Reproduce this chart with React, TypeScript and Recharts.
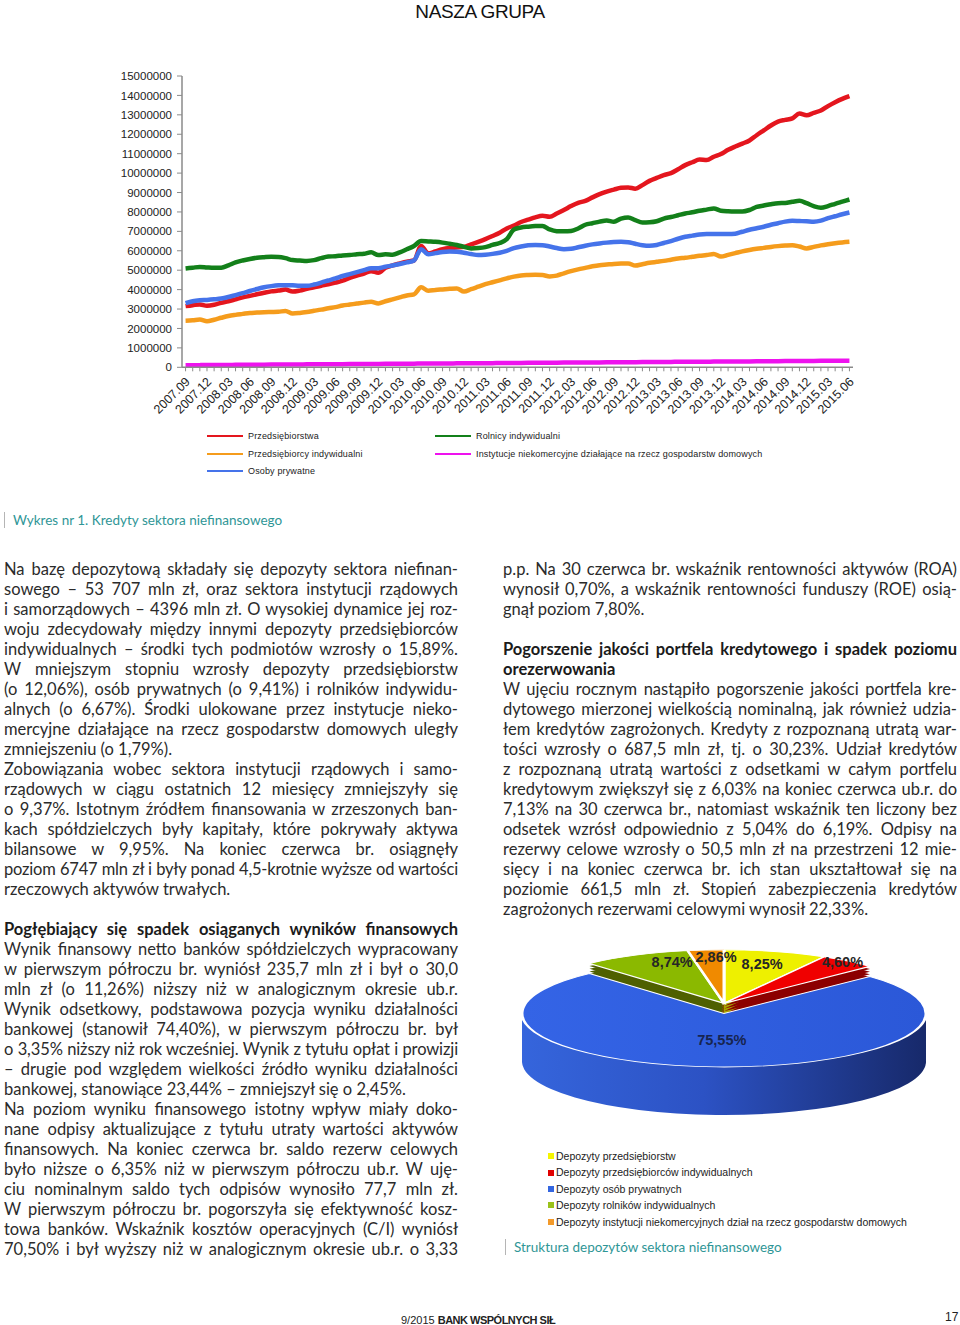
import React, { useLayoutEffect, useRef } from 'react';
import { LineChart, Line, XAxis, YAxis, PieChart, Pie, Cell } from 'recharts';

// Wykres nr 1 – kredyty sektora niefinansowego (dane miesięczne, tys. zł)
const months = [
  '2007.09', '2007.10', '2007.11', '2007.12',
  '2008.01', '2008.02', '2008.03', '2008.04', '2008.05', '2008.06', '2008.07', '2008.08', '2008.09', '2008.10', '2008.11', '2008.12',
  '2009.01', '2009.02', '2009.03', '2009.04', '2009.05', '2009.06', '2009.07', '2009.08', '2009.09', '2009.10', '2009.11', '2009.12',
  '2010.01', '2010.02', '2010.03', '2010.04', '2010.05', '2010.06', '2010.07', '2010.08', '2010.09', '2010.10', '2010.11', '2010.12',
  '2011.01', '2011.02', '2011.03', '2011.04', '2011.05', '2011.06', '2011.07', '2011.08', '2011.09', '2011.10', '2011.11', '2011.12',
  '2012.01', '2012.02', '2012.03', '2012.04', '2012.05', '2012.06', '2012.07', '2012.08', '2012.09', '2012.10', '2012.11', '2012.12',
  '2013.01', '2013.02', '2013.03', '2013.04', '2013.05', '2013.06', '2013.07', '2013.08', '2013.09', '2013.10', '2013.11', '2013.12',
  '2014.01', '2014.02', '2014.03', '2014.04', '2014.05', '2014.06', '2014.07', '2014.08', '2014.09', '2014.10', '2014.11', '2014.12',
  '2015.01', '2015.02', '2015.03', '2015.04', '2015.05', '2015.06',
];

const przedsiebiorstwa = [
  3150, 3200, 3240, 3170, 3220, 3320, 3400, 3500, 3600, 3680,
  3760, 3840, 3910, 3950, 4000, 3900, 3950, 4040, 4120, 4200,
  4270, 4360, 4460, 4600, 4720, 4830, 4950, 4870, 5120, 5250,
  5350, 5440, 5500, 6250, 5860, 5970, 6080, 6140, 6170, 6200,
  6330, 6460, 6600, 6760, 6930, 7150, 7300, 7480, 7600, 7720,
  7800, 7750, 7920, 8100, 8300, 8470, 8570, 8750, 8920, 9050,
  9150, 9240, 9260, 9200, 9380, 9600, 9750, 9900, 10000, 10200,
  10410, 10560, 10700, 10670, 10840, 10980, 11200, 11370, 11520, 11680,
  11950, 12200, 12450, 12650, 12740, 12820, 13070, 12980, 13100, 13220,
  13450, 13650, 13820, 13960,
];

const rolnicy = [
  5090, 5130, 5170, 5140, 5120, 5130, 5250, 5400, 5500, 5580,
  5640, 5670, 5690, 5680, 5620, 5520, 5500, 5480, 5520, 5620,
  5700, 5720, 5760, 5780, 5820, 5850, 5920, 5780, 5820, 5800,
  5920, 6080, 6250, 6500, 6480, 6460, 6420, 6360, 6300, 6200,
  6120, 6140, 6190, 6300, 6400, 6600, 7100, 7200, 7240, 7270,
  7280, 7100, 7010, 7000, 7020, 7150, 7340, 7420, 7500, 7560,
  7500, 7660, 7720, 7580, 7460, 7470, 7520, 7660, 7740, 7830,
  7920, 7980, 8060, 8120, 8180, 8060, 8030, 8020, 8020, 8100,
  8260, 8330, 8400, 8450, 8460, 8520, 8570, 8450, 8300, 8220,
  8300, 8420, 8530, 8640,
];

const przedsiebiorcy = [
  2400, 2420, 2460, 2370, 2450, 2550, 2640, 2700, 2750, 2800,
  2820, 2840, 2850, 2860, 2900, 2770, 2800, 2850, 2910, 2970,
  3040, 3100, 3180, 3230, 3280, 3330, 3370, 3290, 3400, 3500,
  3600, 3700, 3760, 4120, 3940, 3980, 4010, 4040, 4060, 3900,
  4020, 4150, 4280, 4380, 4480, 4580, 4670, 4730, 4750, 4760,
  4750, 4680, 4720, 4840, 4950, 5040, 5120, 5200, 5260, 5290,
  5320, 5340, 5350, 5240, 5310, 5380, 5430, 5480, 5540, 5600,
  5640, 5690, 5740, 5780, 5830, 5700, 5790, 5880, 5970, 6040,
  6100, 6150, 6200, 6240, 6270, 6290, 6220, 6120, 6200, 6280,
  6340, 6390, 6430, 6460,
];

const instytucje = [
  105, 108, 112, 114, 118, 121, 122, 126, 128, 130,
  134, 136, 139, 140, 143, 146, 147, 151, 153, 155,
  158, 161, 162, 166, 169, 170, 173, 176, 177, 181,
  184, 185, 188, 191, 193, 196, 198, 200, 203, 206,
  208, 211, 214, 215, 218, 221, 223, 226, 228, 230,
  234, 236, 237, 241, 243, 245, 249, 251, 252, 256,
  259, 260, 263, 266, 267, 271, 274, 275, 278, 281,
  283, 286, 288, 290, 294, 296, 297, 301, 303, 305,
  309, 311, 312, 316, 319, 320, 323, 326, 327, 331,
  334, 335, 339, 341,
];

const osobyPrywatne = [
  3300, 3400, 3450, 3470, 3500, 3540, 3620, 3720, 3820, 3930,
  4030, 4120, 4180, 4220, 4230, 4220, 4200, 4200, 4260, 4360,
  4470, 4580, 4700, 4800, 4900, 5000, 5100, 5100, 5180, 5240,
  5320, 5400, 5500, 6080, 5820, 5880, 5940, 5960, 5950, 5900,
  5830, 5780, 5800, 5840, 5900, 6000, 6140, 6220, 6280, 6300,
  6290, 6220, 6140, 6080, 6100, 6180, 6260, 6330, 6380, 6420,
  6450, 6460, 6440, 6360, 6290, 6260, 6300, 6400, 6500, 6620,
  6720, 6780, 6840, 6860, 6860, 6860, 6860, 6880, 6980, 7080,
  7160, 7240, 7340, 7420, 7500, 7540, 7530, 7520, 7500, 7550,
  7680, 7780, 7880, 7970,
];

const yTicks = [
  0, 1000000, 2000000, 3000000, 4000000, 5000000, 6000000, 7000000,
  8000000, 9000000, 10000000, 11000000, 12000000, 13000000, 14000000, 15000000,
];

// Struktura depozytów sektora niefinansowego (%)
const pieNames = [
  'Depozyty przedsiębiorstw',
  'Depozyty przedsiębiorców indywidualnych',
  'Depozyty osób prywatnych',
  'Depozyty rolników indywidualnych',
  'Depozyty instytucji niekomercyjnych dział na rzecz gospodarstw domowych',
];
const pieValues = [8.25, 4.6, 75.55, 8.74, 2.86];

const lineSeries = [
  { key: 'przedsiebiorstwa', name: 'Przedsiębiorstwa', color: '#e4161e' },
  { key: 'rolnicy', name: 'Rolnicy indywidualni', color: '#13801a' },
  { key: 'przedsiebiorcy', name: 'Przedsiębiorcy indywidualni', color: '#f59c1c' },
  { key: 'instytucje', name: 'Instytucje niekomercyjne działające na rzecz gospodarstw domowych', color: '#ee12ee' },
  { key: 'osobyPrywatne', name: 'Osoby prywatne', color: '#4573ea' },
];

const lineData = months.map((month, i) => ({
  month,
  przedsiebiorstwa: przedsiebiorstwa[i] * 1000,
  rolnicy: rolnicy[i] * 1000,
  przedsiebiorcy: przedsiebiorcy[i] * 1000,
  instytucje: instytucje[i] * 1000,
  osobyPrywatne: osobyPrywatne[i] * 1000,
}));

const pieData = pieNames.map((name, i) => ({ name, value: pieValues[i] }));

const AXIS_FONT = '"Liberation Sans", Arial, sans-serif';
const TEXT_FONT = 'Lato, "Open Sans", sans-serif';
const TEAL = '#2f9696';
const COL_W = 454;

// legend of the line chart (two columns as in the original)
const lineLegendPos = [
  { x: 207, y: 436 },
  { x: 435, y: 436 },
  { x: 207, y: 454 },
  { x: 435, y: 454 },
  { x: 207, y: 471 },
];

function MonthTick(props: any) {
  const { x, y, payload, index } = props;
  if (index % 3 !== 0) return <g />;
  return (
    <g transform={`translate(${x - 1},${y + 3}) rotate(-45)`}>
      <text x={0} y={0} dy="0.7em" textAnchor="end" fontSize={12.5} fill="#222" fontFamily={AXIS_FONT}>
        {payload.value}
      </text>
    </g>
  );
}

// pie: drawn flat, then squashed into an ellipse; side built from stacked layers
const K = 0.265;
const PR = 202;
const PCX = 230;
const PCY = 330;
const LIFT = 38; // small slices pulled back (exploded)
const SIDE_DEPTH = 181;
const LAYERS = 18;
const sideOffsets = Array.from({ length: LAYERS }, (_, j) => (SIDE_DEPTH * (LAYERS - j)) / LAYERS);
const BLUE = 2;
const PIE_TOP = ['#eef000', '#f00000', 'url(#pieTop)', '#8bb900', '#f08a00'];
const PIE_SIDE = ['#a6a600', '#8c0000', 'url(#pieSide)', '#4f6000', '#8c5000'];
const PIE_SWATCH = ['#f5f500', '#e00000', '#3466e0', '#9ac21a', '#f39a2a'];
const labelTune = [
  { r: 0.95, da: 3.4 },
  { r: 1.12, da: 6.4 },
  { r: 0.5, da: 1 },
  { r: 0.99, da: -11 },
  { r: 1.05, da: -3 },
];
const RAD = Math.PI / 180;

function renderPieLabel(props: any) {
  const { cx, cy, midAngle, index, value } = props;
  const t = labelTune[index];
  const a = (midAngle + t.da) * RAD;
  const x = cx + t.r * PR * Math.cos(a);
  const y = cy - t.r * PR * Math.sin(a);
  return (
    <g key={`lbl-${index}`} transform={`translate(${x},${y}) scale(1,${1 / K})`}>
      <text
        textAnchor="middle"
        dominantBaseline="central"
        fontSize={14.5}
        fontWeight={700}
        fontFamily={AXIS_FONT}
        fill={index === BLUE ? '#172550' : '#262626'}
      >
        {value.toFixed(2).replace('.', ',')}%
      </text>
    </g>
  );
}

type Ln = { t: string; last?: boolean; bold?: boolean };
const J = (t: string): Ln => ({ t });
const L = (t: string): Ln => ({ t, last: true });
const B = (t: string): Ln => ({ t, bold: true });
const BL = (t: string): Ln => ({ t, bold: true, last: true });

const leftText: Ln[] = [
  J('Na bazę depozytową składały się depozyty sektora niefinan-'),
  J('sowego – 53 707 mln zł, oraz sektora instytucji rządowych'),
  J('i samorządowych – 4396 mln zł. O wysokiej dynamice jej roz-'),
  J('woju zdecydowały między innymi depozyty przedsiębiorców'),
  J('indywidualnych – środki tych podmiotów wzrosły o 15,89%.'),
  J('W mniejszym stopniu wzrosły depozyty przedsiębiorstw'),
  J('(o 12,06%), osób prywatnych (o 9,41%) i rolników indywidu-'),
  J('alnych (o 6,67%). Środki ulokowane przez instytucje nieko-'),
  J('mercyjne działające na rzecz gospodarstw domowych uległy'),
  L('zmniejszeniu (o 1,79%).'),
  J('Zobowiązania wobec sektora instytucji rządowych i samo-'),
  J('rządowych w ciągu ostatnich 12 miesięcy zmniejszyły się'),
  J('o 9,37%. Istotnym źródłem finansowania w zrzeszonych ban-'),
  J('kach spółdzielczych były kapitały, które pokrywały aktywa'),
  J('bilansowe w 9,95%. Na koniec czerwca br. osiągnęły'),
  J('poziom 6747 mln zł i były ponad 4,5-krotnie wyższe od wartości'),
  L('rzeczowych aktywów trwałych.'),
  L(''),
  B('Pogłębiający się spadek osiąganych wyników finansowych'),
  J('Wynik finansowy netto banków spółdzielczych wypracowany'),
  J('w pierwszym półroczu br. wyniósł 235,7 mln zł i był o 30,0'),
  J('mln zł (o 11,26%) niższy niż w analogicznym okresie ub.r.'),
  J('Wynik odsetkowy, podstawowa pozycja wyniku działalności'),
  J('bankowej (stanowił 74,40%), w pierwszym półroczu br. był'),
  J('o 3,35% niższy niż rok wcześniej. Wynik z tytułu opłat i prowizji'),
  J('– drugie pod względem wielkości źródło wyniku działalności'),
  L('bankowej, stanowiące 23,44% – zmniejszył się o 2,45%.'),
  J('Na poziom wyniku finansowego istotny wpływ miały doko-'),
  J('nane odpisy aktualizujące z tytułu utraty wartości aktywów'),
  J('finansowych. Na koniec czerwca br. saldo rezerw celowych'),
  J('było niższe o 6,35% niż w pierwszym półroczu ub.r. W uję-'),
  J('ciu nominalnym saldo tych odpisów wynosiło 77,7 mln zł.'),
  J('W pierwszym półroczu br. pogorszyła się efektywność kosz-'),
  J('towa banków. Wskaźnik kosztów operacyjnych (C/I) wyniósł'),
  J('70,50% i był wyższy niż w analogicznym okresie ub.r. o 3,33'),
];

const rightText: Ln[] = [
  J('p.p. Na 30 czerwca br. wskaźnik rentowności aktywów (ROA)'),
  J('wynosił 0,70%, a wskaźnik rentowności funduszy (ROE) osią-'),
  L('gnął poziom 7,80%.'),
  L(''),
  B('Pogorszenie jakości portfela kredytowego i spadek poziomu'),
  BL('orezerwowania'),
  J('W ujęciu rocznym nastąpiło pogorszenie jakości portfela kre-'),
  J('dytowego mierzonej wielkością nominalną, jak również udzia-'),
  J('łem kredytów zagrożonych. Kredyty z rozpoznaną utratą war-'),
  J('tości wzrosły o 687,5 mln zł, tj. o 30,23%. Udział kredytów'),
  J('z rozpoznaną utratą wartości z odsetkami w całym portfelu'),
  J('kredytowym zwiększył się z 6,03% na koniec czerwca ub.r. do'),
  J('7,13% na 30 czerwca br., natomiast wskaźnik ten liczony bez'),
  J('odsetek wzrósł odpowiednio z 5,04% do 6,19%. Odpisy na'),
  J('rezerwy celowe wzrosły o 50,5 mln zł na przestrzeni 12 mie-'),
  J('sięcy i na koniec czerwca br. ich stan ukształtował się na'),
  J('poziomie 661,5 mln zł. Stopień zabezpieczenia kredytów'),
  L('zagrożonych rezerwami celowymi wynosił 22,33%.'),
];

function TextColumn({ lines, left, top }: { lines: Ln[]; left: number; top: number }) {
  const ref = useRef<HTMLDivElement>(null);

  // squeeze letter spacing of lines that would not fit the column
  useLayoutEffect(() => {
    const root = ref.current;
    if (!root) return;
    root.querySelectorAll<HTMLElement>('[data-line]').forEach((el) => {
      const span = el.firstElementChild as HTMLElement;
      const prevAlign = el.style.textAlignLast;
      el.style.textAlignLast = 'left';
      const w = span.getBoundingClientRect().width;
      el.style.textAlignLast = prevAlign;
      const n = span.textContent ? span.textContent.length : 1;
      if (w > COL_W) el.style.letterSpacing = `${(COL_W - w) / n - 0.05}px`;
    });
  }, []);

  return (
    <div ref={ref} style={{ position: 'absolute', left, top, width: COL_W, fontFamily: TEXT_FONT, fontSize: 16.5, color: '#2b2b2b' }}>
      {lines.map((l, i) => (
        <div
          key={i}
          data-line="1"
          style={{
            height: 20,
            lineHeight: '20px',
            whiteSpace: 'nowrap',
            textAlign: 'justify',
            textAlignLast: l.last ? 'left' : 'justify',
            fontWeight: l.bold ? 700 : 400,
            color: l.bold ? '#1b1b1b' : undefined,
          }}
        >
          <span>{l.t}</span>
        </div>
      ))}
    </div>
  );
}

function Caption({ x, y, text }: { x: number; y: number; text: string }) {
  return (
    <div style={{ position: 'absolute', left: x, top: y }}>
      <div style={{ position: 'absolute', left: 0, top: 0, width: 1, height: 16, background: '#b5b5b5' }} />
      <div style={{ position: 'absolute', left: 9, top: 0, lineHeight: '16px', fontSize: 13.5, fontFamily: TEXT_FONT, color: TEAL, whiteSpace: 'nowrap' }}>
        {text}
      </div>
    </div>
  );
}

function pieLayer(key: string, cy: number, colors: string[], show: (i: number) => boolean, top: boolean) {
  return (
    <Pie
      key={key}
      data={pieData}
      dataKey="value"
      cx={PCX}
      cy={cy}
      outerRadius={PR}
      startAngle={90}
      endAngle={-270}
      stroke="none"
      label={top && show(BLUE) ? renderPieLabel : false}
      labelLine={false}
      isAnimationActive={false}
    >
      {pieData.map((d, i) => (
        <Cell
          key={d.name}
          fill={show(i) ? colors[i] : 'transparent'}
          stroke={top && show(i) ? '#ffffff' : 'none'}
          strokeWidth={top ? 3 : 0}
        />
      ))}
    </Pie>
  );
}

export default function App() {
  const isBlue = (i: number) => i === BLUE;
  const isSmall = (i: number) => i !== BLUE;
  return (
    <div style={{ position: 'absolute', left: 0, top: 0, width: 960, height: 1325, background: '#fff', overflow: 'hidden' }}>
      <div
        style={{
          position: 'absolute', left: 0, top: 1, width: 960, textAlign: 'center',
          fontFamily: '"Liberation Sans Narrow", "Liberation Sans", Arial, sans-serif',
          fontSize: 19, lineHeight: '22px', color: '#111', letterSpacing: -0.4,
        }}
      >
        NASZA GRUPA
      </div>

      <div style={{ position: 'absolute', left: 0, top: 0 }}>
        <LineChart width={960} height={430} data={lineData} margin={{ top: 76, right: 107, bottom: 0, left: 0 }}>
          <XAxis
            dataKey="month"
            interval={0}
            height={62.7}
            padding={{ left: 3.57, right: 3.57 }}
            tick={<MonthTick />}
            tickSize={4}
            tickLine={{ stroke: '#8a8a8a' }}
            axisLine={{ stroke: '#8a8a8a', strokeWidth: 1.5 }}
          />
          <XAxis xAxisId="top" orientation="top" dataKey="month" height={0} tick={false} tickLine={false} axisLine={{ stroke: '#9a9a9a', strokeWidth: 1.5 }} />
          <YAxis
            domain={[0, 15000000]}
            ticks={yTicks}
            interval={0}
            width={182}
            tickSize={5}
            tickMargin={5}
            tick={{ fontSize: 11.5, fill: '#222', fontFamily: AXIS_FONT }}
            tickLine={{ stroke: '#8a8a8a' }}
            axisLine={{ stroke: '#8a8a8a', strokeWidth: 1.5 }}
          />
          <YAxis yAxisId="r" orientation="right" width={0} domain={[0, 1]} tick={false} tickLine={false} axisLine={{ stroke: '#9a9a9a', strokeWidth: 1.5 }} />
          {lineSeries.map((s) => (
            <Line
              key={s.key}
              type="monotone"
              dataKey={s.key}
              name={s.name}
              stroke={s.color}
              strokeWidth={4.5}
              dot={false}
              isAnimationActive={false}
            />
          ))}
        </LineChart>
      </div>

      {lineSeries.map((s, i) => (
        <div key={s.key} style={{ position: 'absolute', left: lineLegendPos[i].x, top: lineLegendPos[i].y - 7, height: 14, whiteSpace: 'nowrap' }}>
          <div style={{ position: 'absolute', left: 0, top: 6, width: 36, height: 2, background: s.color }} />
          <div style={{ position: 'absolute', left: 41, top: 0, lineHeight: '14px', fontSize: 9, fontFamily: AXIS_FONT, color: '#222', letterSpacing: 0.15 }}>
            {s.name}
          </div>
        </div>
      ))}

      <Caption x={4} y={512} text="Wykres nr 1. Kredyty sektora niefinansowego" />

      <TextColumn lines={leftText} left={4} top={559} />
      <TextColumn lines={rightText} left={503} top={559} />

      <div
        style={{
          position: 'absolute', left: 724 - PCX, top: 1013 - K * PCY,
          transform: `scaleY(${K})`, transformOrigin: '0 0',
        }}
      >
        <PieChart width={460} height={PCY + PR + SIDE_DEPTH + 12} margin={{ top: 0, right: 0, bottom: 0, left: 0 }}>
          <defs>
            <linearGradient id="pieSide" x1="0" y1="0" x2="1" y2="0">
              <stop offset="0%" stopColor="#3565dc" />
              <stop offset="45%" stopColor="#2c52c4" />
              <stop offset="100%" stopColor="#17296a" />
            </linearGradient>
            <linearGradient id="pieTop" x1="0" y1="0" x2="1" y2="0">
              <stop offset="0%" stopColor="#3464e6" />
              <stop offset="100%" stopColor="#2b58d8" />
            </linearGradient>
          </defs>
          {sideOffsets.map((off, j) => pieLayer(`a-side-${j}`, PCY - LIFT + off, PIE_SIDE, isSmall, false))}
          {pieLayer('a-top', PCY - LIFT, PIE_TOP, isSmall, true)}
          {sideOffsets.map((off, j) => pieLayer(`b-side-${j}`, PCY + off, PIE_SIDE, isBlue, false))}
          {pieLayer('b-top', PCY, PIE_TOP, isBlue, true)}
        </PieChart>
      </div>

      <div style={{ position: 'absolute', left: 548, top: 1148, fontFamily: AXIS_FONT, fontSize: 10.5, color: '#222' }}>
        {pieData.map((d, i) => (
          <div key={d.name} style={{ height: 16.4, lineHeight: '16.4px', whiteSpace: 'nowrap', display: 'flex', alignItems: 'center' }}>
            <span style={{ display: 'inline-block', width: 6, height: 6, background: PIE_SWATCH[i], marginRight: 2 }} />
            {d.name}
          </div>
        ))}
      </div>

      <Caption x={505} y={1239} text="Struktura depozytów sektora niefinansowego" />

      <div style={{ position: 'absolute', left: 401, top: 1313, fontFamily: AXIS_FONT, fontSize: 11, lineHeight: '14px', color: '#222', whiteSpace: 'nowrap' }}>
        9/2015 <b style={{ letterSpacing: -0.5 }}>BANK WSPÓLNYCH SIŁ</b>
      </div>
      <div style={{ position: 'absolute', left: 945, top: 1310, fontFamily: AXIS_FONT, fontSize: 12, lineHeight: '14px', color: '#222' }}>
        17
      </div>
    </div>
  );
}
